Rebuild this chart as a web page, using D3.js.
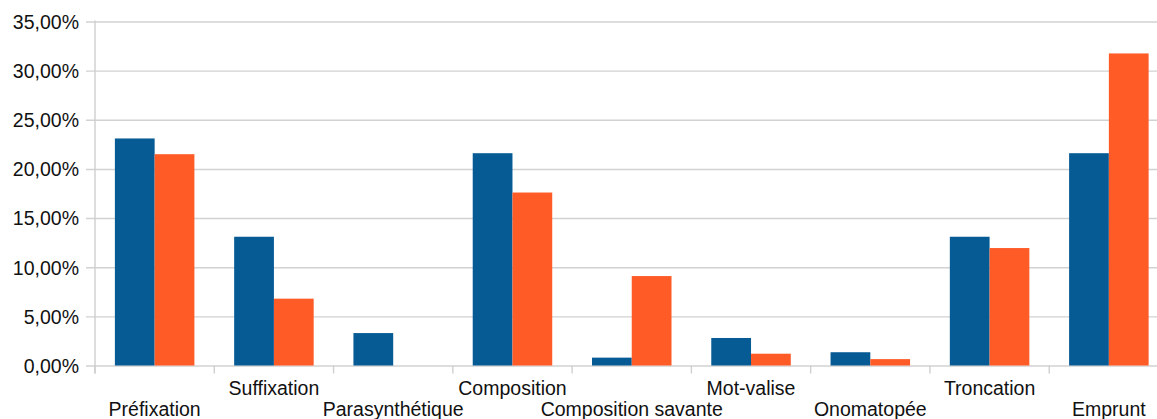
<!DOCTYPE html>
<html><head><meta charset="utf-8">
<script src="https://cdn.jsdelivr.net/npm/d3@7"></script>
<style>body{margin:0;background:#fff}svg{display:block}text{font-family:"Liberation Sans",Arial,sans-serif;fill:#111}</style>
</head><body>
<svg id="c" width="1157" height="419"></svg>
<script>
const categories = ["Préfixation","Suffixation","Parasynthétique","Composition","Composition savante","Mot-valise","Onomatopée","Troncation","Emprunt"];
const series1 = [23.1, 13.1, 3.3, 21.6, 0.8, 2.8, 1.35, 13.1, 21.6];
const series2 = [21.5, 6.8, 0, 17.6, 9.1, 1.2, 0.65, 11.95, 31.75];
const yTicks = [0,5,10,15,20,25,30,35];
const colors = ["#075b95","#ff5b27"];

const svg = d3.select("#c");
const x0 = 95, x1 = 1168.5, yBase = 365.5, yTop = 21.5;
const x = d3.scaleBand().domain(categories).range([x0, x1]).paddingInner(0).paddingOuter(0);
const y = d3.scaleLinear().domain([0,35]).range([yBase, yTop]);
const xs = d3.scaleBand().domain([0,1]).range([0, x.bandwidth()]).paddingOuter(0.5).paddingInner(0);

// gridlines
const yAxis = d3.axisLeft(y).tickValues(yTicks).tickSize(-(x1 - x0) - 9).tickPadding(0)
  .tickFormat(d => d3.format(".2f")(d).replace(".", ",") + "%");
const gy = svg.append("g").attr("transform", `translate(${x0},0)`).call(yAxis);
gy.select(".domain").remove();
gy.selectAll(".tick line").attr("x1", -9).attr("x2", x1 - x0).attr("stroke", "#d2d2d2").attr("stroke-width", 1.4);
gy.selectAll(".tick text").attr("x", -16).attr("font-size", "19.5px").attr("dy", "0.35em").style("fill", "#111");

// bars
const data = categories.map((c,i) => ({c, v:[series1[i], series2[i]]}));
const g = svg.append("g");
data.forEach(d => {
  d.v.forEach((v,k) => {
    if (v <= 0) return;
    g.append("rect")
      .attr("x", x(d.c) + xs(k))
      .attr("y", y(v))
      .attr("width", xs.bandwidth())
      .attr("height", yBase - y(v))
      .attr("fill", colors[k]);
  });
});

// axes lines
svg.append("line").attr("x1", x0).attr("x2", x0).attr("y1", yTop - 1).attr("y2", yBase + 8).attr("stroke", "#cfcfcf").attr("stroke-width", 1.4);
const xAxis = d3.axisBottom(x).tickSize(0).tickFormat("");
const gx = svg.append("g").attr("transform", `translate(0,${yBase})`).call(xAxis);
gx.select(".domain").remove();
categories.concat([null]).forEach((c,i) => {
  const px = x0 + i * x.step();
  svg.append("line").attr("x1", px).attr("x2", px).attr("y1", yBase).attr("y2", yBase + 8).attr("stroke", "#cfcfcf").attr("stroke-width", 1.4);
});
categories.forEach((c,i) => {
  svg.append("text").attr("x", x(c) + x.bandwidth()/2).attr("y", i % 2 === 0 ? 416 : 395)
    .attr("text-anchor", "middle").attr("font-size", "19.5px").text(c);
});
</script>
</body></html>
